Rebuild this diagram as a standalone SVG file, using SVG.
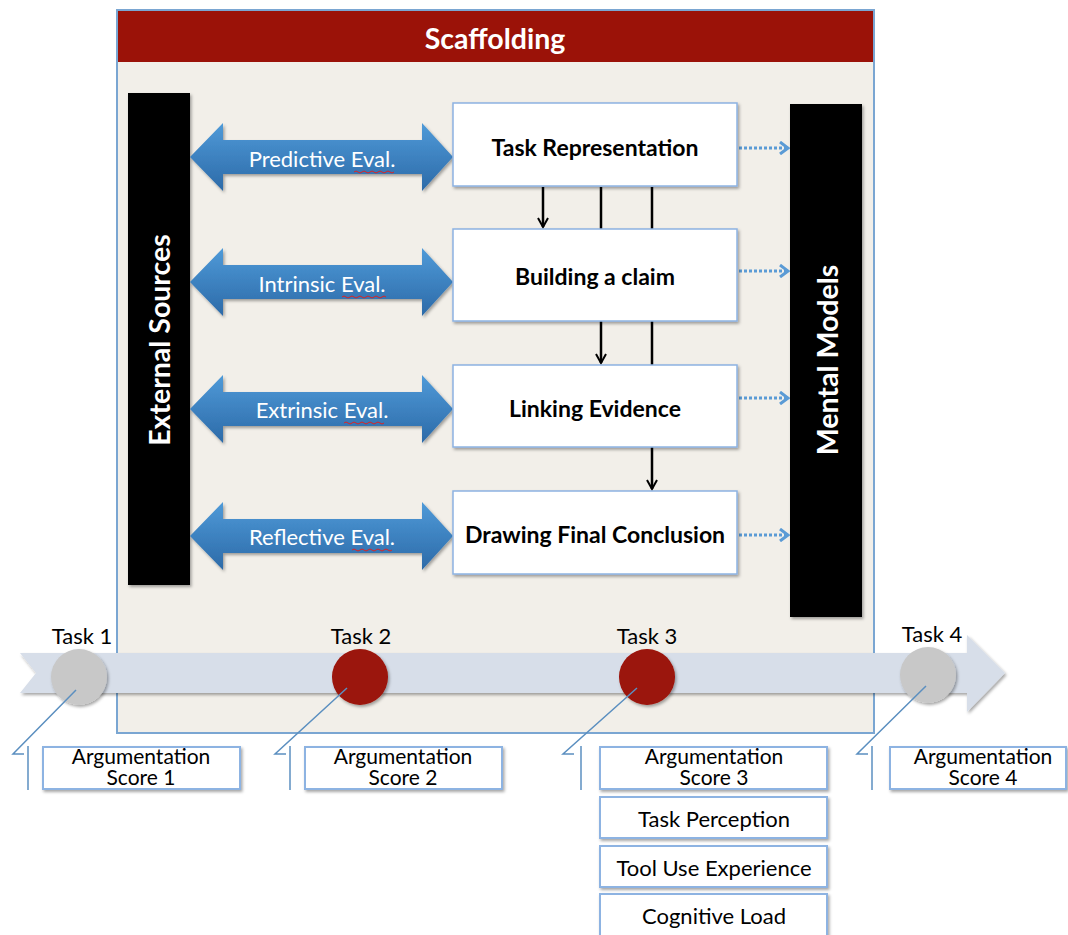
<svg xmlns="http://www.w3.org/2000/svg" width="1068" height="935" viewBox="0 0 1068 935">
  <defs>
    <linearGradient id="evalFill" x1="0" y1="0" x2="0" y2="1">
      <stop offset="0" stop-color="#4f9ad8"/>
      <stop offset="1" stop-color="#2c6aa8"/>
    </linearGradient>
    <filter id="shadow" x="-10%" y="-10%" width="130%" height="130%">
      <feDropShadow dx="1.5" dy="2" stdDeviation="1.5" flood-color="#000" flood-opacity="0.35"/>
    </filter>
    <marker id="blackHead" viewBox="0 0 12 12" refX="10" refY="6" markerWidth="12" markerHeight="12" markerUnits="userSpaceOnUse" orient="auto">
      <path d="M1,1 L10,6 L1,11" fill="none" stroke="#000" stroke-width="2"/>
    </marker>
    <marker id="blueHead" viewBox="0 0 12 14" refX="10" refY="7" markerWidth="12" markerHeight="14" markerUnits="userSpaceOnUse" orient="auto">
      <path d="M2,1 L10,7 L2,13" fill="none" stroke="#5b9bd5" stroke-width="3"/>
    </marker>
  </defs>
  <style>
    .box { fill: #ffffff; stroke: #8db3e2; stroke-width: 1.5; }
    .node-label { font-family: Lato, "Liberation Sans", sans-serif; font-weight: bold; font-size: 23px; fill: #000; text-anchor: middle; }
    .eval-label { font-family: Lato, "Liberation Sans", sans-serif; font-size: 22px; fill: #fff; text-anchor: middle; }
    .bar-label { font-family: Lato, "Liberation Sans", sans-serif; font-weight: bold; font-size: 28.5px; fill: #fff; text-anchor: middle; }
    .task-label { font-family: Lato, "Liberation Sans", sans-serif; font-size: 22px; fill: #000; text-anchor: middle; }
    .score-label { font-family: Lato, "Liberation Sans", sans-serif; font-size: 22px; fill: #000; text-anchor: middle; }
    .score-two { font-size: 21px; }
    .score-box { fill: #ffffff; stroke: #8db3e2; stroke-width: 2; }
    .callout { fill: none; stroke: #5b8fc0; stroke-width: 1.5; }
    .flow { stroke: #000; stroke-width: 2.5; fill: none; }
    .dotted { stroke: #5b9bd5; stroke-width: 3; stroke-dasharray: 3 2; fill: none; }
    .squiggle { fill: none; stroke: #d22; stroke-width: 1; }
  </style>

  <!-- Scaffolding frame -->
  <g id="scaffolding">
    <rect x="117" y="10" width="757" height="723" fill="#f2efe9" stroke="#7aa6d2" stroke-width="2"/>
    <rect x="118" y="11" width="755" height="51" fill="#9b1208"/>
    <text x="495" y="49" class="bar-label" font-size="27.5px">Scaffolding</text>
  </g>

  <!-- Side bars -->
  <g id="external-sources">
    <rect x="128" y="93" width="62" height="492" fill="#000" filter="url(#shadow)"/>
    <text class="bar-label" transform="translate(170,340) rotate(-90)">External Sources</text>
  </g>
  <g id="mental-models">
    <rect x="790" y="104" width="72" height="513" fill="#000" filter="url(#shadow)"/>
    <text class="bar-label" transform="translate(838,360) rotate(-90)" font-size="29.5px">Mental Models</text>
  </g>

  <!-- Evaluation double arrows -->
  <g id="eval-predictive">
    <path d="M190,157 L223,123 L223,140 L422,140 L422,123 L453,157 L422,191 L422,174 L223,174 L223,191 Z" fill="url(#evalFill)" filter="url(#shadow)"/>
    <text x="322" y="167" class="eval-label">Predictive Eval.</text>
    <path class="squiggle" d="M354,172 q2,-2 4,0 t4,0 t4,0 t4,0 t4,0 t4,0 t4,0 t4,0 t4,0 t4,0"/>
  </g>
  <g id="eval-intrinsic">
    <path d="M190,282 L223,248 L223,265 L422,265 L422,248 L453,282 L422,316 L422,299 L223,299 L223,316 Z" fill="url(#evalFill)" filter="url(#shadow)"/>
    <text x="322" y="292" class="eval-label">Intrinsic Eval.</text>
    <path class="squiggle" d="M342,297 q2,-2 4,0 t4,0 t4,0 t4,0 t4,0 t4,0 t4,0 t4,0 t4,0 t4,0 t4,0"/>
  </g>
  <g id="eval-extrinsic">
    <path d="M190,409 L223,375 L223,392 L422,392 L422,375 L453,409 L422,443 L422,426 L223,426 L223,443 Z" fill="url(#evalFill)" filter="url(#shadow)"/>
    <text x="322" y="418" class="eval-label">Extrinsic Eval.</text>
    <path class="squiggle" d="M344,423 q2,-2 4,0 t4,0 t4,0 t4,0 t4,0 t4,0 t4,0 t4,0 t4,0 t4,0"/>
  </g>
  <g id="eval-reflective">
    <path d="M190,536 L223,502 L223,519 L422,519 L422,502 L453,536 L422,570 L422,553 L223,553 L223,570 Z" fill="url(#evalFill)" filter="url(#shadow)"/>
    <text x="322" y="545" class="eval-label">Reflective Eval.</text>
    <path class="squiggle" d="M352,550 q2,-2 4,0 t4,0 t4,0 t4,0 t4,0 t4,0 t4,0 t4,0 t4,0 t4,0"/>
  </g>

  <!-- Connectors (drawn under the step boxes) -->
  <g id="connectors">
    <path class="flow" d="M543,187 L543,227" marker-end="url(#blackHead)"/>
    <path class="flow" d="M601,187 L601,363" marker-end="url(#blackHead)"/>
    <path class="flow" d="M652,187 L652,489" marker-end="url(#blackHead)"/>
    <path class="dotted" d="M739,148 L788,148" marker-end="url(#blueHead)"/>
    <path class="dotted" d="M739,271 L788,271" marker-end="url(#blueHead)"/>
    <path class="dotted" d="M739,398 L788,398" marker-end="url(#blueHead)"/>
    <path class="dotted" d="M739,535 L788,535" marker-end="url(#blueHead)"/>
  </g>

  <!-- Argumentation steps -->
  <g id="task-representation">
    <rect x="453" y="103" width="284" height="83" class="box" filter="url(#shadow)"/>
    <text x="595" y="156" class="node-label">Task Representation</text>
  </g>
  <g id="building-claim">
    <rect x="453" y="229" width="284" height="92" class="box" filter="url(#shadow)"/>
    <text x="595" y="285" class="node-label">Building a claim</text>
  </g>
  <g id="linking-evidence">
    <rect x="453" y="365" width="284" height="82" class="box" filter="url(#shadow)"/>
    <text x="595" y="417" class="node-label">Linking Evidence</text>
  </g>
  <g id="drawing-conclusion">
    <rect x="453" y="491" width="284" height="83" class="box" filter="url(#shadow)"/>
    <text x="595" y="543" class="node-label">Drawing Final Conclusion</text>
  </g>

  <!-- Timeline -->
  <g id="timeline">
    <path d="M20,653 L967,653 L967,635 L1005,673 L967,712 L967,693 L20,693 L36,673 Z" fill="#d7dee9" filter="url(#shadow)"/>
  </g>

  <g id="task-1">
    <circle cx="79" cy="677" r="28" fill="#c8c8c8" filter="url(#shadow)"/>
    <text x="82" y="644" class="task-label">Task 1</text>
  </g>
  <g id="task-2">
    <circle cx="360" cy="677" r="28" fill="#9b1208" filter="url(#shadow)"/>
    <text x="361" y="644" class="task-label">Task 2</text>
  </g>
  <g id="task-3">
    <circle cx="647" cy="677" r="28" fill="#9b1208" filter="url(#shadow)"/>
    <text x="647" y="644" class="task-label">Task 3</text>
  </g>
  <g id="task-4">
    <circle cx="928" cy="675" r="28" fill="#c8c8c8" filter="url(#shadow)"/>
    <text x="932" y="642" class="task-label">Task 4</text>
  </g>

  <!-- Callouts -->
  <g id="callouts">
    <path class="callout" d="M76,690 L13,754 L24,754"/>
    <path class="callout" d="M28,746 L28,790"/>
    <path class="callout" d="M347,688 L275,754 L286,754"/>
    <path class="callout" d="M290,746 L290,790"/>
    <path class="callout" d="M637,688 L563,754 L574,754"/>
    <path class="callout" d="M581,746 L581,790"/>
    <path class="callout" d="M926,686 L857,754 L868,754"/>
    <path class="callout" d="M872,746 L872,790"/>
  </g>

  <!-- Measures -->
  <g id="score-1">
    <rect x="43" y="747" width="197" height="42" class="score-box" filter="url(#shadow)"/>
    <text x="141" y="764" class="score-label score-two">Argumentation</text>
    <text x="141" y="785" class="score-label score-two">Score 1</text>
  </g>
  <g id="score-2">
    <rect x="305" y="747" width="197" height="42" class="score-box" filter="url(#shadow)"/>
    <text x="403" y="764" class="score-label score-two">Argumentation</text>
    <text x="403" y="785" class="score-label score-two">Score 2</text>
  </g>
  <g id="score-3">
    <rect x="600" y="747" width="227" height="42" class="score-box" filter="url(#shadow)"/>
    <text x="714" y="764" class="score-label score-two">Argumentation</text>
    <text x="714" y="785" class="score-label score-two">Score 3</text>
  </g>
  <g id="score-4">
    <rect x="890" y="747" width="176" height="42" class="score-box" filter="url(#shadow)"/>
    <text x="983" y="764" class="score-label score-two">Argumentation</text>
    <text x="983" y="785" class="score-label score-two">Score 4</text>
  </g>
  <g id="task-perception">
    <rect x="600" y="797" width="227" height="41" class="score-box" filter="url(#shadow)"/>
    <text x="714" y="827" class="score-label">Task Perception</text>
  </g>
  <g id="tool-use">
    <rect x="600" y="846" width="227" height="41" class="score-box" filter="url(#shadow)"/>
    <text x="714" y="876" class="score-label">Tool Use Experience</text>
  </g>
  <g id="cognitive-load">
    <rect x="600" y="894" width="227" height="44" class="score-box" filter="url(#shadow)"/>
    <text x="714" y="924" class="score-label">Cognitive Load</text>
  </g>
</svg>
